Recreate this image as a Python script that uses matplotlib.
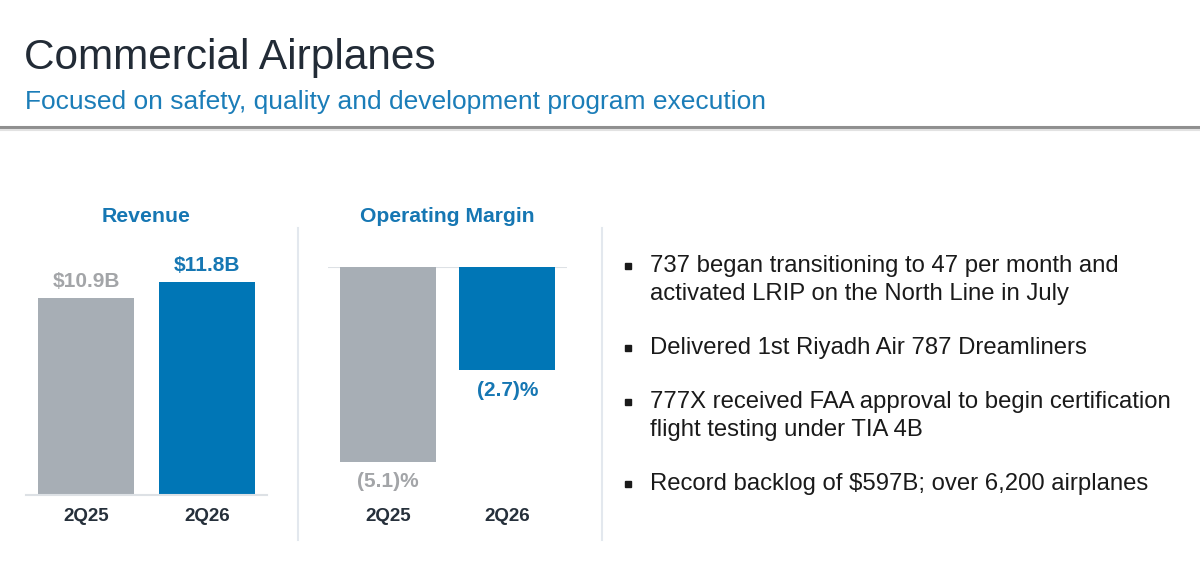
import matplotlib
matplotlib.use("Agg")
import matplotlib.pyplot as plt
from matplotlib.lines import Line2D
from matplotlib.patches import Rectangle

plt.rcParams['font.family'] = ['Liberation Sans', 'DejaVu Sans']

# ---- data ----
periods = ["2Q25", "2Q26"]
revenue = [10.9, 11.8]
revenue_labels = ["$10.9B", "$11.8B"]
op_margin = [-5.1, -2.7]
op_margin_labels = ["(5.1)%", "(2.7)%"]
title = "Commercial Airplanes"
subtitle = "Focused on safety, quality and development program execution"
bullets = [
    ["737 began transitioning to 47 per month and", "activated LRIP on the North Line in July"],
    ["Delivered 1st Riyadh Air 787 Dreamliners"],
    ["777X received FAA approval to begin certification", "flight testing under TIA 4B"],
    ["Record backlog of $597B; over 6,200 airplanes"],
]

W, H = 1200, 585
GRAY = "#a7aeb5"
BLUE = "#0076b6"
GRAY_TXT = "#a3a5a8"
BLUE_TXT = "#1677b3"
DARK = "#26303b"
bar_colors = [GRAY, BLUE]
label_colors = [GRAY_TXT, BLUE_TXT]

fig = plt.figure(figsize=(W / 100, H / 100), dpi=100)
fig.patch.set_facecolor("white")


def fx(px):
    return px / W


def fy(py):
    return 1 - py / H


def add_axes_px(left, top, right, bottom):
    return fig.add_axes([fx(left), fy(bottom), (right - left) / W, (bottom - top) / H])


# ---- header ----
fig.text(fx(24), fy(69), title, fontsize=30.5, color="#222b36", va="baseline", ha="left")
fig.text(fx(25), fy(109), subtitle, fontsize=19, color="#1b7db8", va="baseline", ha="left")
fig.add_artist(Line2D([0, 1], [fy(127), fy(127)], color="#8f8f8f", lw=2.2))
fig.add_artist(Line2D([0, 1], [fy(129.5), fy(129.5)], color="#e2e2e2", lw=1.5))

# ---- separators ----
for xs in (298, 602):
    fig.add_artist(Line2D([fx(xs), fx(xs)], [fy(228), fy(540)], color="#e3e8ee", lw=1.5))

# ---- Revenue chart ----
ax1 = add_axes_px(26, 250, 267, 495)
x = list(range(len(periods)))
ax1.bar(x, revenue, width=0.8, color=bar_colors, zorder=2)
ax1.set_xlim(-0.5, 1.5)
ax1.set_ylim(0, 245 / 18.05)
for i, (v, lab) in enumerate(zip(revenue, revenue_labels)):
    ax1.annotate(lab, (x[i], v), xytext=(0, 8), textcoords="offset points",
                 ha="center", va="baseline", fontsize=15, fontweight="bold",
                 color=label_colors[i], annotation_clip=False)
fig.text(fx(146.5), fy(217), "Revenue", fontsize=15.3, fontweight="bold",
         color=BLUE_TXT, ha="center", va="center")

# ---- Operating margin chart ----
ax2 = add_axes_px(328, 267, 567, 495)
ax2.bar(x, op_margin, width=0.8, color=bar_colors, zorder=2)
ax2.set_xlim(-0.5, 1.5)
ax2.set_ylim(-(495 - 267) / 38.2, 0)
ax2.axhline(0, color="#dde1e5", lw=1.5, zorder=1)
for i, (v, lab) in enumerate(zip(op_margin, op_margin_labels)):
    ax2.annotate(lab, (x[i], v), xytext=(0, -14.5), textcoords="offset points",
                 ha="center", va="center", fontsize=15, fontweight="bold",
                 color=label_colors[i], annotation_clip=False)
fig.text(fx(447.5), fy(217), "Operating Margin", fontsize=15.2, fontweight="bold",
         color=BLUE_TXT, ha="center", va="center")

for ax in (ax1, ax2):
    ax.set_facecolor("none")
    ax.set_xticks(x)
    ax.set_xticklabels(periods, fontsize=13.5, fontweight="bold", color=DARK)
    ax.tick_params(axis="x", length=0, pad=9.5)
    ax.set_yticks([])
    for s in ax.spines.values():
        s.set_visible(False)
ax1.spines["bottom"].set_visible(True)
ax1.spines["bottom"].set_color("#dde1e5")
ax1.spines["bottom"].set_linewidth(1.5)

# ---- bullets ----
y = 272
for group in bullets:
    fig.add_artist(Rectangle((fx(625), fy(y - 3)), 6 / W, 6 / H, color="#1a1a1a",
                             transform=fig.transFigure))
    for line in group:
        fig.text(fx(650), fy(y), line, fontsize=17.2, color="#1a1a1a", ha="left", va="baseline")
        y += 28
    y += 26

fig.savefig("out.png", dpi=100, facecolor="white")
